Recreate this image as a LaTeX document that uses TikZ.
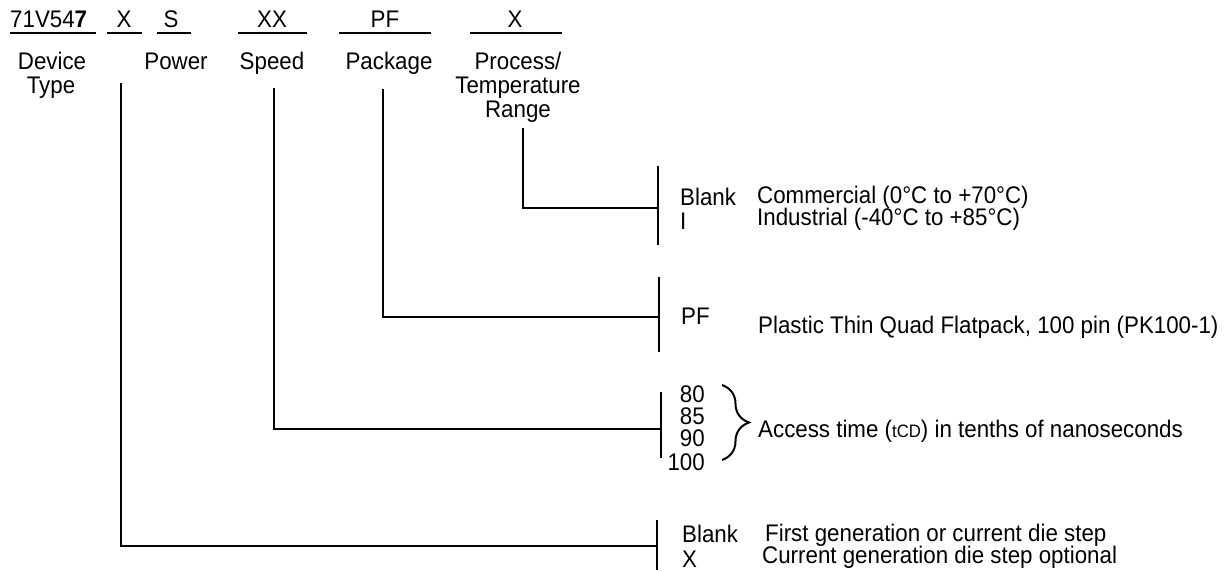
\documentclass[tikz,border=0pt]{standalone}
\usepackage{fontspec}
\setmainfont{Liberation Sans}[FakeStretch=0.93]
\usetikzlibrary{positioning,decorations.pathreplacing}

\begin{document}
\begin{tikzpicture}[x=1pt,y=-1pt,
    txt/.style={inner sep=0pt,font=\fontsize{24}{24}\selectfont},
    wire/.style={line width=2pt}]
    \useasboundingbox (0,0) rectangle (1232,571);

    % Part number fields
    \node[txt,anchor=base west] (devnum) at (10,27) {71V54\textbf{7}};
    \foreach \nm/\t/\cx in {gen/X/124, pwr/S/171, spd/XX/272, pkg/PF/385, tmp/X/515}
        \node[txt,anchor=base] (\nm) at (\cx,27) {\t};
    \foreach \a/\b in {10/96, 107/142, 157/191, 238/307, 339/431, 470/562}
        \draw[wire] (\a,33) -- (\b,33);

    % Field names
    \node[txt,anchor=base] (devlbl) at (52,69) {Device};
    \node[txt,anchor=base] (typelbl) at (51,93) {Type};
    \node[txt,anchor=base] (pwrlbl) at (176,69) {Power};
    \node[txt,anchor=base] (spdlbl) at (272,69) {Speed};
    \node[txt,anchor=base] (pkglbl) at (389,69) {Package};
    \node[txt,anchor=base] (tmplbl) at (518,69) {Process/};
    \node[txt,anchor=base] (templbl) at (518,93) {Temperature};
    \node[txt,anchor=base] (rangelbl) at (518,117) {Range};

    % Process / temperature range
    \coordinate (tmptop) at (523,128);
    \coordinate (tmpbar) at (658,207.5);
    \draw[wire] (tmptop) |- (tmpbar);
    \draw[wire] (658,166) -- (658,245);
    \node[txt,anchor=base west] (tblank) at (680,205) {Blank};
    \node[txt,anchor=base west] (tind) at (680,229) {I};
    \node[txt,anchor=base west] (comm) at (757,203) {Commercial (0°C to +70°C)};
    \node[txt,anchor=base west] (indus) at (757,225) {Industrial (-40°C to +85°C)};

    % Package
    \coordinate (pkgtop) at (383,89);
    \coordinate (pkgbar) at (659,317);
    \draw[wire] (pkgtop) |- (pkgbar);
    \draw[wire] (659,277) -- (659,352);
    \node[txt,anchor=base west] (pf) at (681,324) {PF};
    \node[txt,anchor=base west] (tqfp) at (758,333) {Plastic Thin Quad Flatpack, 100 pin (PK100-1)};

    % Speed
    \coordinate (spdtop) at (273.5,88);
    \coordinate (spdbar) at (661,429);
    \draw[wire] (spdtop) |- (spdbar);
    \draw[wire] (661,392) -- (661,458);
    \foreach \v/\by in {80/402, 85/424, 90/446, 100/470}
        \node[txt,anchor=base east] (s\v) at (705,\by) {\v};
    \draw[wire,decorate,decoration={brace,amplitude=27pt}] (722,385) -- (722,460);
    \node[txt,anchor=base west] (access) at (758,437)
        {Access time ({\fontsize{18}{18}\selectfont tCD}) in tenths of nanoseconds};

    % Die step
    \coordinate (gentop) at (120.5,83);
    \coordinate (genbar) at (657,546);
    \draw[wire] (gentop) |- (genbar);
    \draw[wire] (657,520) -- (657,570);
    \node[txt,anchor=base west] (gblank) at (682,542) {Blank};
    \node[txt,anchor=base west] (gx) at (682,567) {X};
    \node[txt,anchor=base west] (first) at (765,541) {First generation or current die step};
    \node[txt,anchor=base west] (curr) at (762,563) {Current generation die step optional};
\end{tikzpicture}
\end{document}
